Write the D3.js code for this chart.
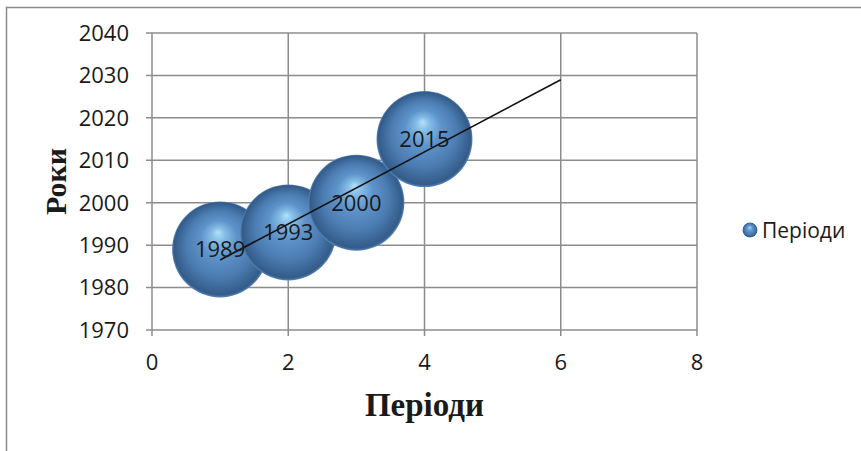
<!DOCTYPE html>
<html>
<head>
<meta charset="utf-8">
<script src="https://cdn.jsdelivr.net/npm/d3@7"></script>
<style>
  html, body { margin: 0; padding: 0; background: #fff; }
  svg { display: block; }
</style>
</head>
<body>
<div id="chart"></div>
<script>
// Series data: period number, year, bubble size
const periods = [1, 2, 3, 4];
const years = [1989, 1993, 2000, 2015];
const sizes = [1, 1, 1, 1];
const seriesName = "Періоди";
const xTicks = [0, 2, 4, 6, 8];
const yTicks = [1970, 1980, 1990, 2000, 2010, 2020, 2030, 2040];
const trendEnd = 6; // linear trend extended forward to this period

const W = 861, H = 451;
const plot = { left: 152, right: 697, top: 33, bottom: 330 };

const svg = d3.select("#chart").append("svg")
  .attr("width", W).attr("height", H);

// Outer chart frame
svg.append("rect")
  .attr("x", 6.5).attr("y", 7.5)
  .attr("width", W + 20).attr("height", H + 20)
  .attr("fill", "none").attr("stroke", "#8a8a8a").attr("stroke-width", 1.5);

const x = d3.scaleLinear().domain([0, 8]).range([plot.left, plot.right]);
const y = d3.scaleLinear().domain([1970, 2040]).range([plot.bottom, plot.top]);
const r = d3.scaleSqrt().domain([0, 1]).range([0, 48]);

// Sphere shading
const defs = svg.append("defs");
const grad = defs.append("radialGradient")
  .attr("id", "sphere")
  .attr("cx", "0.5").attr("cy", "0.5").attr("r", "0.5")
  .attr("fx", "0.48").attr("fy", "0.32");
[
  [0, "#b2e2f8"],
  [0.14, "#86bde6"],
  [0.38, "#5e93ca"],
  [0.68, "#4c7db2"],
  [0.88, "#3a6595"],
  [0.96, "#345b88"],
  [1, "#5486bd"]
].forEach(([o, c]) => grad.append("stop").attr("offset", o).attr("stop-color", c));

const gridColor = "#8c8c8c";

// Gridlines
svg.append("g").selectAll("line.h").data(yTicks).join("line")
  .attr("x1", plot.left - 6).attr("x2", plot.right)
  .attr("y1", d => y(d)).attr("y2", d => y(d))
  .attr("stroke", gridColor).attr("stroke-width", 1.5);
svg.append("g").selectAll("line.v").data(xTicks).join("line")
  .attr("x1", d => x(d)).attr("x2", d => x(d))
  .attr("y1", plot.top).attr("y2", plot.bottom + 6)
  .attr("stroke", gridColor).attr("stroke-width", 1.5);

// Tick labels
const tickFont = "'Open Sans', 'Noto Sans', sans-serif";
svg.append("g").selectAll("text").data(yTicks).join("text")
  .attr("x", plot.left - 23).attr("y", d => y(d))
  .attr("dy", "0.36em")
  .attr("text-anchor", "end")
  .attr("font-family", tickFont).attr("font-size", 22).attr("fill", "#1a1a1a")
  .text(d => d);
svg.append("g").selectAll("text").data(xTicks).join("text")
  .attr("x", d => x(d)).attr("y", plot.bottom + 32)
  .attr("dy", "0.36em")
  .attr("text-anchor", "middle")
  .attr("font-family", tickFont).attr("font-size", 22).attr("fill", "#1a1a1a")
  .text(d => d);

// Bubbles
const data = periods.map((p, i) => ({ p, yr: years[i], s: sizes[i] }));
svg.append("g").selectAll("circle").data(data).join("circle")
  .attr("cx", d => x(d.p)).attr("cy", d => y(d.yr))
  .attr("r", d => r(d.s))
  .attr("fill", "url(#sphere)");

// Linear trend (least squares) from first period to trendEnd
const mx = d3.mean(periods), my = d3.mean(years);
const slope = d3.sum(periods, (p, i) => (p - mx) * (years[i] - my)) /
              d3.sum(periods, p => (p - mx) ** 2);
const icpt = my - slope * mx;
const trendX = [periods[0], trendEnd];
svg.append("line")
  .attr("x1", x(trendX[0])).attr("y1", y(icpt + slope * trendX[0]))
  .attr("x2", x(trendX[1])).attr("y2", y(icpt + slope * trendX[1]))
  .attr("stroke", "#111").attr("stroke-width", 1.6);

// Data labels
svg.append("g").selectAll("text").data(data).join("text")
  .attr("x", d => x(d.p)).attr("y", d => y(d.yr))
  .attr("dy", "0.36em")
  .attr("text-anchor", "middle")
  .attr("font-family", tickFont).attr("font-size", 22).attr("fill", "#1a1a1a")
  .text(d => d.yr);

// Axis titles
svg.append("text")
  .attr("transform", `translate(66, ${(plot.top + plot.bottom) / 2}) rotate(-90)`)
  .attr("text-anchor", "middle")
  .attr("font-family", "'Liberation Serif', 'Times New Roman', serif")
  .attr("font-weight", "bold").attr("font-size", 30).attr("fill", "#1a1a1a")
  .text("Роки");
svg.append("text")
  .attr("x", (plot.left + plot.right) / 2).attr("y", 416)
  .attr("text-anchor", "middle")
  .attr("font-family", "'Liberation Serif', 'Times New Roman', serif")
  .attr("font-weight", "bold").attr("font-size", 33).attr("fill", "#1a1a1a")
  .text("Періоди");

// Legend
const lg = svg.append("g").attr("transform", "translate(750, 230)");
lg.append("circle").attr("r", 7.5).attr("fill", "url(#sphere)");
lg.append("text").attr("x", 12).attr("dy", "0.36em")
  .attr("font-family", tickFont).attr("font-size", 21).attr("fill", "#1a1a1a")
  .text(seriesName);
</script>
</body>
</html>
